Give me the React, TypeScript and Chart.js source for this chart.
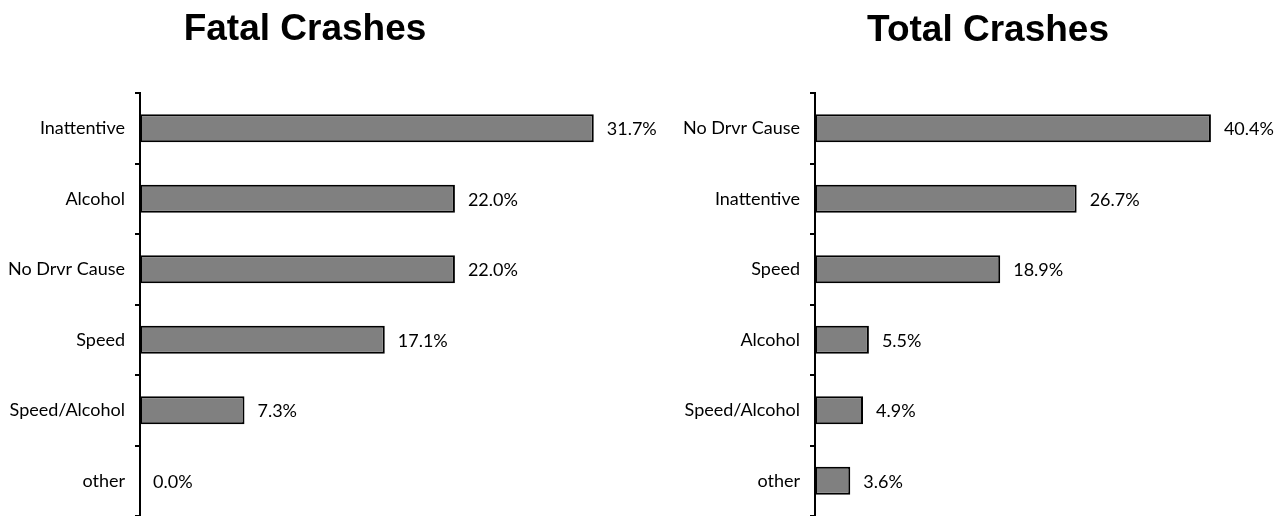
import React, { useEffect, useRef } from "react";
import { Chart, registerables } from "chart.js";

Chart.register(...registerables);

const fatalTitle = "Fatal Crashes";
const fatalLabels = ["Inattentive", "Alcohol", "No Drvr Cause", "Speed", "Speed/Alcohol", "other"];
const fatalValues = [31.7, 22.0, 22.0, 17.1, 7.3, 0.0];
const fatalMax = 35;

const totalTitle = "Total Crashes";
const totalLabels = ["No Drvr Cause", "Inattentive", "Speed", "Alcohol", "Speed/Alcohol", "other"];
const totalValues = [40.4, 26.7, 18.9, 5.5, 4.9, 3.6];
const totalMax = 45;

const FONT = "Lato, 'Open Sans', sans-serif";

const valueLabelPlugin = {
  id: "valueLabels",
  afterDatasetsDraw(chart: any) {
    const ctx = chart.ctx;
    const meta = chart.getDatasetMeta(0);
    const data = chart.data.datasets[0].data as number[];
    ctx.save();
    ctx.font = `18px ${FONT}`;
    ctx.fillStyle = "#000";
    ctx.textAlign = "left";
    ctx.textBaseline = "middle";
    meta.data.forEach((bar: any, i: number) => {
      ctx.fillText(data[i].toFixed(1) + "%", bar.x + 13, bar.y + 1);
    });
    ctx.restore();
  },
};

type PanelProps = {
  labels: string[];
  values: number[];
  max: number;
  axisWidth: number;
  width: number;
  padRight: number;
};

function Panel({ labels, values, max, axisWidth, width, padRight }: PanelProps) {
  const ref = useRef<HTMLCanvasElement | null>(null);
  useEffect(() => {
    if (!ref.current) return;
    const chart = new Chart(ref.current, {
      type: "bar",
      data: {
        labels,
        datasets: [
          {
            data: values,
            backgroundColor: "#808080",
            borderColor: "#000000",
            borderWidth: 2,
            borderSkipped: false,
            barPercentage: 0.4,
            categoryPercentage: 1,
          },
        ],
      },
      options: {
        indexAxis: "y",
        responsive: false,
        animation: false,
        devicePixelRatio: 1,
        layout: { padding: { top: 93, right: padRight, bottom: 0, left: 0 } },
        plugins: {
          legend: { display: false },
          tooltip: { enabled: false },
          title: { display: false },
        },
        scales: {
          x: { display: false, min: 0, max },
          y: {
            afterFit: (scale: any) => {
              scale.width = axisWidth;
              scale.paddingTop = 0;
              scale.paddingBottom = 0;
            },
            grid: {
              display: true,
              drawOnChartArea: false,
              drawTicks: true,
              tickLength: 5,
              color: "#000",
              lineWidth: 2,
              offset: true,
            },
            border: { display: true, color: "#000", width: 2 },
            ticks: {
              color: "#000",
              padding: 10,
              font: { family: FONT, size: 18 },
            },
          },
        },
      },
      plugins: [valueLabelPlugin],
    });
    return () => chart.destroy();
  }, []);
  return <canvas ref={ref} width={width} height={516} style={{ display: "block" }} />;
}

const titleStyle: React.CSSProperties = {
  position: "absolute",
  transform: "translateX(-50%)",
  font: "bold 37px 'Liberation Sans', Arial, sans-serif",
  lineHeight: "37px",
  whiteSpace: "nowrap",
  color: "#000",
};

export default function App() {
  return (
    <div style={{ position: "fixed", left: 0, top: 0, width: 1278, height: 516, background: "#fff", overflow: "hidden" }}>
      <div style={{ position: "absolute", left: 0, top: 0 }}>
        <Panel labels={fatalLabels} values={fatalValues} max={fatalMax} axisWidth={140} width={660} padRight={19} />
      </div>
      <div style={{ position: "absolute", left: 660, top: 0 }}>
        <Panel labels={totalLabels} values={totalValues} max={totalMax} axisWidth={155} width={618} padRight={22} />
      </div>
      <div style={{ ...titleStyle, left: 305, top: 9 }}>{fatalTitle}</div>
      <div style={{ ...titleStyle, left: 988, top: 10 }}>{totalTitle}</div>
    </div>
  );
}
